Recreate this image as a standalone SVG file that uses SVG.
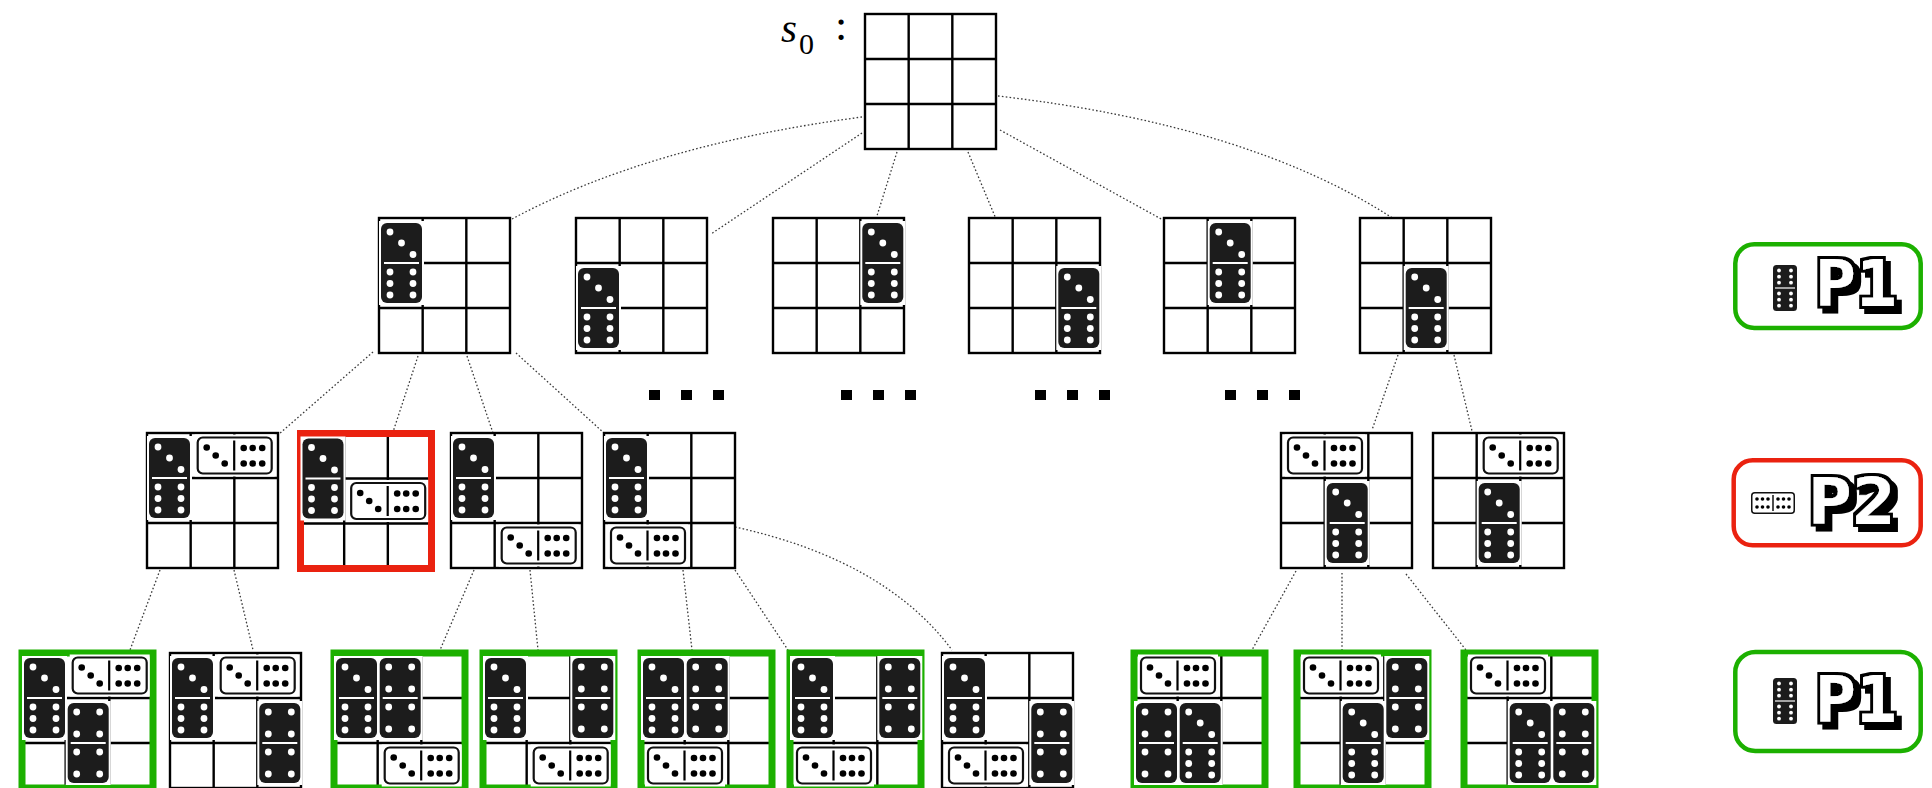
<svg xmlns="http://www.w3.org/2000/svg" xmlns:xlink="http://www.w3.org/1999/xlink" width="1932" height="788" viewBox="0 0 1932 788">
  <style>
    .dot { fill: none; stroke: #3a3a3a; stroke-width: 1.3; stroke-dasharray: 1.6 2.2; }
    .win { fill: none; stroke: #1cb000; stroke-width: 7; }
    .lose { fill: none; stroke: #ea2210; stroke-width: 7; }
    .ell { fill: #000; }
    .serif { font-family: "Liberation Serif", "Times New Roman", serif; fill: #000; }
    .tag { font-family: "DejaVu Sans Mono", "Liberation Mono", monospace; font-weight: bold; font-size: 64px; fill: #fff; filter: url(#pixelShadow); }
  </style>
  <defs>
    <!-- black outline plus offset drop shadow for the turn tags -->
    <filter id="pixelShadow" x="-20%" y="-30%" width="150%" height="170%">
      <feMorphology in="SourceAlpha" operator="dilate" radius="3" result="thick"/>
      <feOffset in="thick" dx="5" dy="5" result="drop"/>
      <feMerge>
        <feMergeNode in="drop"/>
        <feMergeNode in="thick"/>
        <feMergeNode in="SourceGraphic"/>
      </feMerge>
    </filter>
    <!-- 3x3 board -->
    <g id="grid">
      <rect x="0" y="0" width="131" height="135" fill="#fff" stroke="#000" stroke-width="2.4"/>
      <path d="M43.67 0V135M87.33 0V135M0 45H131M0 90H131" fill="none" stroke="#000" stroke-width="2.4"/>
    </g>
    <!-- vertical black domino 3-6 -->
    <g id="v36">
      <rect x="-2" y="-2" width="45" height="84" fill="#fff"/>
      <rect x="0" y="0" width="41" height="80" rx="6" fill="#1c1c1c"/>
      <g fill="#fff">
        <circle cx="9" cy="9" r="3.4"/><circle cx="20.5" cy="20" r="3.4"/><circle cx="32" cy="31.5" r="3.4"/>
        <circle cx="9" cy="49" r="3.4"/><circle cx="32" cy="49" r="3.4"/>
        <circle cx="9" cy="60.5" r="3.4"/><circle cx="32" cy="60.5" r="3.4"/>
        <circle cx="9" cy="72" r="3.4"/><circle cx="32" cy="72" r="3.4"/>
      </g>
      <line x1="3" y1="40" x2="38" y2="40" stroke="#fff" stroke-width="1.8"/>
    </g>
    <!-- vertical black domino 4-4 -->
    <g id="v44">
      <rect x="-2" y="-2" width="45" height="84" fill="#fff"/>
      <rect x="0" y="0" width="41" height="80" rx="6" fill="#1c1c1c"/>
      <g fill="#fff">
        <circle cx="9" cy="9" r="3.4"/><circle cx="32" cy="9" r="3.4"/>
        <circle cx="9" cy="31" r="3.4"/><circle cx="32" cy="31" r="3.4"/>
        <circle cx="9" cy="49" r="3.4"/><circle cx="32" cy="49" r="3.4"/>
        <circle cx="9" cy="71" r="3.4"/><circle cx="32" cy="71" r="3.4"/>
      </g>
      <line x1="3" y1="40" x2="38" y2="40" stroke="#fff" stroke-width="1.8"/>
    </g>
    <!-- horizontal white domino 3|6 -->
    <g id="h36">
      <rect x="-2" y="-2" width="80" height="42" fill="#fff"/>
      <rect x="1" y="1" width="74" height="36" rx="5" fill="#fff" stroke="#111" stroke-width="2.2"/>
      <g fill="#000">
        <circle cx="10" cy="11" r="3.3"/><circle cx="19" cy="19" r="3.3"/><circle cx="28" cy="27" r="3.3"/>
        <circle cx="47" cy="11.5" r="3.3"/><circle cx="56" cy="11.5" r="3.3"/><circle cx="65.5" cy="11.5" r="3.3"/>
        <circle cx="47" cy="27" r="3.3"/><circle cx="56" cy="27" r="3.3"/><circle cx="65.5" cy="27" r="3.3"/>
      </g>
      <line x1="37.5" y1="4" x2="37.5" y2="34" stroke="#000" stroke-width="2.2"/>
    </g>
    <!-- small legend pieces -->
    <g id="v66">
      <rect x="0" y="0" width="24" height="46" rx="3.5" fill="#1c1c1c"/>
      <g fill="#fff">
        <circle cx="6" cy="5.5" r="1.9"/><circle cx="18" cy="5.5" r="1.9"/>
        <circle cx="6" cy="11.7" r="1.9"/><circle cx="18" cy="11.7" r="1.9"/>
        <circle cx="6" cy="17.7" r="1.9"/><circle cx="18" cy="17.7" r="1.9"/>
        <circle cx="6" cy="28.5" r="1.9"/><circle cx="18" cy="28.5" r="1.9"/>
        <circle cx="6" cy="34.7" r="1.9"/><circle cx="18" cy="34.7" r="1.9"/>
        <circle cx="6" cy="40.7" r="1.9"/><circle cx="18" cy="40.7" r="1.9"/>
      </g>
      <line x1="2" y1="23" x2="22" y2="23" stroke="#fff" stroke-width="1.2"/>
    </g>
    <g id="h66">
      <rect x="0.75" y="0.75" width="42.5" height="20.5" rx="3" fill="#fff" stroke="#111" stroke-width="1.5"/>
      <g fill="#000">
        <circle cx="6" cy="7" r="1.8"/><circle cx="11.5" cy="7" r="1.8"/><circle cx="17" cy="7" r="1.8"/>
        <circle cx="6" cy="15" r="1.8"/><circle cx="11.5" cy="15" r="1.8"/><circle cx="17" cy="15" r="1.8"/>
        <circle cx="27" cy="7" r="1.8"/><circle cx="32.5" cy="7" r="1.8"/><circle cx="38" cy="7" r="1.8"/>
        <circle cx="27" cy="15" r="1.8"/><circle cx="32.5" cy="15" r="1.8"/><circle cx="38" cy="15" r="1.8"/>
      </g>
      <line x1="22" y1="3" x2="22" y2="19" stroke="#000" stroke-width="1.4"/>
    </g>
  </defs>

  <!-- connectors -->
  <g id="connectors">
    <path class="dot" d="M862 117 Q650 145 512 219"/>
    <path class="dot" d="M862 133 L711 234"/>
    <path class="dot" d="M897 152 L876 219"/>
    <path class="dot" d="M968 152 L996 219"/>
    <path class="dot" d="M1000 130 L1163 220"/>
    <path class="dot" d="M998 96 Q1250 125 1394 219"/>
    <path class="dot" d="M373 352 L279 434"/>
    <path class="dot" d="M418 356 L393 432"/>
    <path class="dot" d="M467 356 L493 433"/>
    <path class="dot" d="M516 353 L604 433"/>
    <path class="dot" d="M1398 355 L1372 430"/>
    <path class="dot" d="M1454 355 L1472 431"/>
    <path class="dot" d="M160 570 L130 650"/>
    <path class="dot" d="M234 570 L253 650"/>
    <path class="dot" d="M474 570 L440 650"/>
    <path class="dot" d="M530 570 L538 650"/>
    <path class="dot" d="M683 570 L692 650"/>
    <path class="dot" d="M735 570 L788 650"/>
    <path class="dot" d="M735 527 Q885 560 952 650"/>
    <path class="dot" d="M1296 571 L1252 650"/>
    <path class="dot" d="M1342 573 L1342 650"/>
    <path class="dot" d="M1406 574 L1466 650"/>
  </g>

  <!-- root state -->
  <g id="root">
    <use href="#grid" x="865" y="14"/>
    <text class="serif" x="781" y="42" font-size="41" font-style="italic">s</text>
    <text class="serif" x="799" y="54" font-size="30">0</text>
    <text class="serif" x="835" y="40" font-size="44">:</text>
  </g>

  <!-- first move -->
  <g id="l1-a"><use href="#grid" x="379" y="218"/><use href="#v36" x="381" y="223"/></g>
  <g id="l1-b"><use href="#grid" x="576" y="218"/><use href="#v36" x="578" y="268"/></g>
  <g id="l1-c"><use href="#grid" x="773" y="218"/><use href="#v36" x="862.3" y="223"/></g>
  <g id="l1-d"><use href="#grid" x="969" y="218"/><use href="#v36" x="1058.3" y="268"/></g>
  <g id="l1-e"><use href="#grid" x="1164" y="218"/><use href="#v36" x="1209.7" y="223"/></g>
  <g id="l1-f"><use href="#grid" x="1360" y="218"/><use href="#v36" x="1405.7" y="268"/></g>

  <!-- ellipsis -->
  <g id="ellipsis" class="ell">
    <rect x="649" y="390" width="11" height="10"/><rect x="681" y="390" width="11" height="10"/><rect x="713" y="390" width="11" height="10"/>
    <rect x="841" y="390" width="11" height="10"/><rect x="873" y="390" width="11" height="10"/><rect x="905" y="390" width="11" height="10"/>
    <rect x="1035" y="390" width="11" height="10"/><rect x="1067" y="390" width="11" height="10"/><rect x="1099" y="390" width="11" height="10"/>
    <rect x="1225" y="390" width="11" height="10"/><rect x="1257" y="390" width="11" height="10"/><rect x="1289" y="390" width="11" height="10"/>
  </g>

  <!-- second move -->
  <g id="l2-a"><use href="#grid" x="147" y="433"/><use href="#v36" x="149" y="438"/><use href="#h36" x="196.7" y="436.5"/></g>
  <g id="l2-b"><use href="#grid" x="300.5" y="433.5"/><rect class="lose" x="300.5" y="433.5" width="131" height="135"/><use href="#v36" x="302.5" y="438.5"/><use href="#h36" x="350.2" y="482"/></g>
  <g id="l2-c"><use href="#grid" x="451" y="433"/><use href="#v36" x="453" y="438"/><use href="#h36" x="500.7" y="526.5"/></g>
  <g id="l2-d"><use href="#grid" x="604" y="433"/><use href="#v36" x="606" y="438"/><use href="#h36" x="610" y="526.5"/></g>
  <g id="l2-e"><use href="#grid" x="1281" y="433"/><use href="#h36" x="1287" y="436.5"/><use href="#v36" x="1326.7" y="483"/></g>
  <g id="l2-f"><use href="#grid" x="1433" y="433"/><use href="#h36" x="1482.7" y="436.5"/><use href="#v36" x="1478.7" y="483"/></g>

  <!-- third move -->
  <g id="l3-a"><use href="#grid" x="22" y="653"/><rect class="win" x="22" y="653" width="131" height="135"/><use href="#v36" x="24" y="658"/><use href="#h36" x="71.7" y="656.5"/><use href="#v44" x="67.7" y="703"/></g>
  <g id="l3-b"><use href="#grid" x="170" y="653"/><use href="#v36" x="172" y="658"/><use href="#h36" x="219.7" y="656.5"/><use href="#v44" x="259.3" y="703"/></g>
  <g id="l3-c"><use href="#grid" x="334" y="653"/><rect class="win" x="334" y="653" width="131" height="135"/><use href="#v36" x="336" y="658"/><use href="#v44" x="379.7" y="658"/><use href="#h36" x="383.7" y="746.5"/></g>
  <g id="l3-d"><use href="#grid" x="483" y="653"/><rect class="win" x="483" y="653" width="131" height="135"/><use href="#v36" x="485" y="658"/><use href="#v44" x="572.3" y="658"/><use href="#h36" x="532.7" y="746.5"/></g>
  <g id="l3-e"><use href="#grid" x="641" y="653"/><rect class="win" x="641" y="653" width="131" height="135"/><use href="#v36" x="643" y="658"/><use href="#v44" x="686.7" y="658"/><use href="#h36" x="647" y="746.5"/></g>
  <g id="l3-f"><use href="#grid" x="790" y="653"/><rect class="win" x="790" y="653" width="131" height="135"/><use href="#v36" x="792" y="658"/><use href="#v44" x="879.3" y="658"/><use href="#h36" x="796" y="746.5"/></g>
  <g id="l3-g"><use href="#grid" x="942" y="653"/><use href="#v36" x="944" y="658"/><use href="#h36" x="948" y="746.5"/><use href="#v44" x="1031.3" y="703"/></g>
  <g id="l3-h"><use href="#grid" x="1134" y="653"/><rect class="win" x="1134" y="653" width="131" height="135"/><use href="#h36" x="1140" y="656.5"/><use href="#v44" x="1136" y="703"/><use href="#v36" x="1179.7" y="703"/></g>
  <g id="l3-i"><use href="#grid" x="1297" y="653"/><rect class="win" x="1297" y="653" width="131" height="135"/><use href="#h36" x="1303" y="656.5"/><use href="#v36" x="1342.7" y="703"/><use href="#v44" x="1386.3" y="658"/></g>
  <g id="l3-j"><use href="#grid" x="1464" y="653"/><rect class="win" x="1464" y="653" width="131" height="135"/><use href="#h36" x="1470" y="656.5"/><use href="#v36" x="1509.7" y="703"/><use href="#v44" x="1553.3" y="703"/></g>

  <!-- turn labels -->
  <g id="turn-p1-top">
    <rect x="1735.3" y="244.3" width="185.4" height="83.7" rx="19" fill="#fff" stroke="#1cb000" stroke-width="4.5"/>
    <use href="#v66" x="1773" y="265"/>
    <text class="tag" x="1815" y="306" textLength="82" lengthAdjust="spacingAndGlyphs">P1</text>
  </g>
  <g id="turn-p2">
    <rect x="1733.7" y="460.3" width="187" height="85" rx="19" fill="#fff" stroke="#ea2210" stroke-width="4.5"/>
    <use href="#h66" x="1751" y="492"/>
    <text class="tag" x="1808" y="524" textLength="88" lengthAdjust="spacingAndGlyphs">P2</text>
  </g>
  <g id="turn-p1-bottom">
    <rect x="1735.3" y="652" width="185.4" height="99" rx="20" fill="#fff" stroke="#1cb000" stroke-width="4.5"/>
    <use href="#v66" x="1773" y="678"/>
    <text class="tag" x="1815" y="722" textLength="82" lengthAdjust="spacingAndGlyphs">P1</text>
  </g>
</svg>
